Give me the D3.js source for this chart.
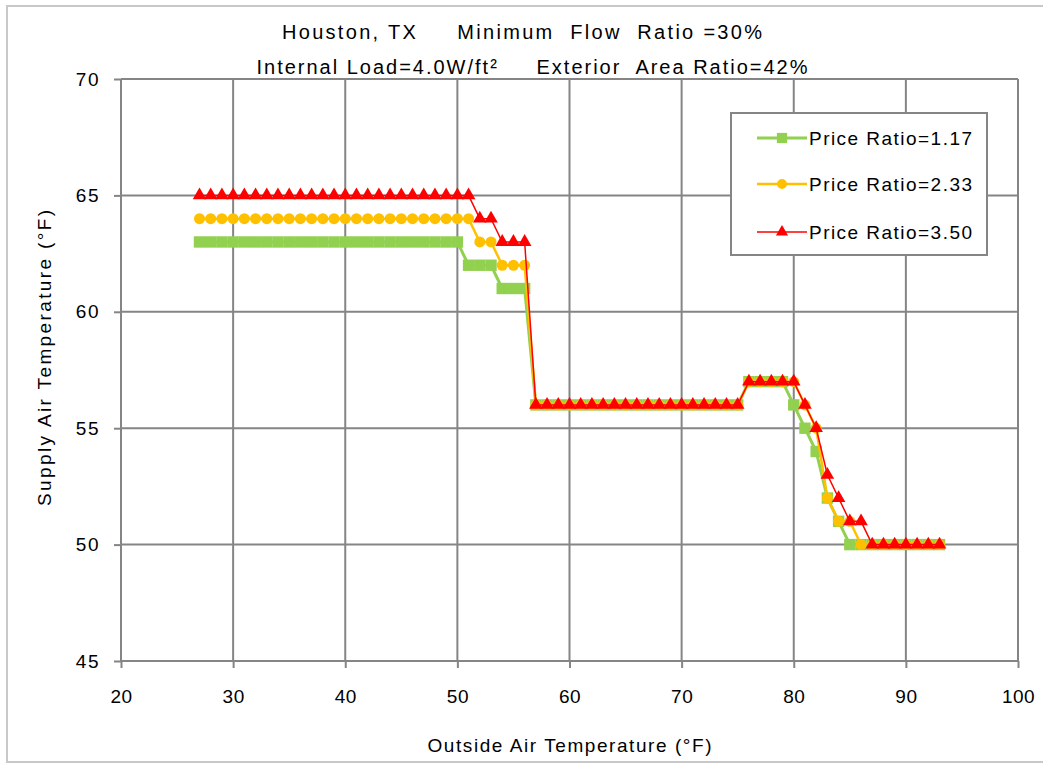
<!DOCTYPE html>
<html>
<head>
<meta charset="utf-8">
<script src="https://cdn.jsdelivr.net/npm/d3@7/dist/d3.min.js"></script>
<style>
  body { margin: 0; background: #fff; }
  svg { display: block; font-family: "Liberation Sans", Arial, sans-serif; }
</style>
</head>
<body>
<div id="chart"></div>
<script>
// outside air temperature (°F)
const oat = [27, 28, 29, 30, 31, 32, 33, 34, 35, 36, 37, 38, 39, 40, 41, 42, 43, 44, 45, 46,
  47, 48, 49, 50, 51, 52, 53, 54, 55, 56, 57, 58, 59, 60, 61, 62, 63, 64, 65, 66,
  67, 68, 69, 70, 71, 72, 73, 74, 75, 76, 77, 78, 79, 80, 81, 82, 83, 84, 85, 86,
  87, 88, 89, 90, 91, 92, 93];

// supply air temperature (°F) for each price ratio
const sat117 = [63, 63, 63, 63, 63, 63, 63, 63, 63, 63, 63, 63, 63, 63, 63, 63, 63, 63, 63, 63,
  63, 63, 63, 63, 62, 62, 62, 61, 61, 61, 56, 56, 56, 56, 56, 56, 56, 56, 56, 56,
  56, 56, 56, 56, 56, 56, 56, 56, 56, 57, 57, 57, 57, 56, 55, 54, 52, 51, 50, 50,
  50, 50, 50, 50, 50, 50, 50];
const sat233 = [64, 64, 64, 64, 64, 64, 64, 64, 64, 64, 64, 64, 64, 64, 64, 64, 64, 64, 64, 64,
  64, 64, 64, 64, 64, 63, 63, 62, 62, 62, 56, 56, 56, 56, 56, 56, 56, 56, 56, 56,
  56, 56, 56, 56, 56, 56, 56, 56, 56, 57, 57, 57, 57, 57, 56, 55, 52, 51, 51, 50,
  50, 50, 50, 50, 50, 50, 50];
const sat350 = [65, 65, 65, 65, 65, 65, 65, 65, 65, 65, 65, 65, 65, 65, 65, 65, 65, 65, 65, 65,
  65, 65, 65, 65, 65, 64, 64, 63, 63, 63, 56, 56, 56, 56, 56, 56, 56, 56, 56, 56,
  56, 56, 56, 56, 56, 56, 56, 56, 56, 57, 57, 57, 57, 57, 56, 55, 53, 52, 51, 51,
  50, 50, 50, 50, 50, 50, 50];

const seriesNames = ['Price Ratio=1.17', 'Price Ratio=2.33', 'Price Ratio=3.50'];
const xTicks = [20, 30, 40, 50, 60, 70, 80, 90, 100];
const yTicks = [45, 50, 55, 60, 65, 70];

const W = 1043, H = 763;
const margin = { top: 79, right: 25, bottom: 102, left: 121 };
const len = W - margin.left - margin.right;
const hei = H - margin.top - margin.bottom;

const svg = d3.select('#chart').append('svg')
  .attr('width', W)
  .attr('height', H);

// outer chart frame
svg.append('rect')
  .attr('x', 7).attr('y', 6)
  .attr('width', W + 10).attr('height', 756)
  .attr('fill', 'none')
  .attr('stroke', '#c8c8c8')
  .attr('stroke-width', 2);

const g = svg.append('g')
  .attr('transform', 'translate(' + margin.left + ',' + margin.top + ')');

const XScale = d3.scaleLinear().domain([20, 100]).range([0, len]);
const YScale = d3.scaleLinear().domain([45, 70]).range([hei, 0]);

// gridlines
g.append('g').selectAll('line')
  .data(xTicks)
  .enter().append('line')
  .attr('x1', d => XScale(d)).attr('x2', d => XScale(d))
  .attr('y1', 0).attr('y2', hei)
  .attr('stroke', '#858585').attr('stroke-width', 2);

g.append('g').selectAll('line')
  .data(yTicks)
  .enter().append('line')
  .attr('x1', 0).attr('x2', len)
  .attr('y1', d => YScale(d)).attr('y2', d => YScale(d))
  .attr('stroke', '#858585').attr('stroke-width', 2);

// axes
const xAxis = d3.axisBottom(XScale).tickValues(xTicks).tickSize(7).tickPadding(22)
  .tickFormat(d3.format('d'));
const yAxis = d3.axisLeft(YScale).tickValues(yTicks).tickSize(7).tickPadding(14)
  .tickFormat(d3.format('d'));

g.append('g')
  .attr('transform', 'translate(0,' + hei + ')')
  .call(xAxis)
  .call(a => a.select('.domain').remove())
  .call(a => a.selectAll('line').attr('stroke', '#858585').attr('stroke-width', 2))
  .call(a => a.selectAll('text').attr('font-size', 19).attr('fill', '#000')
    .attr('letter-spacing', 0.5)
    .attr('font-family', '"Liberation Sans", Arial, sans-serif'));

g.append('g')
  .call(yAxis)
  .call(a => a.select('.domain').remove())
  .call(a => a.selectAll('line').attr('stroke', '#858585').attr('stroke-width', 2))
  .call(a => a.selectAll('text').attr('font-size', 19).attr('fill', '#000')
    .attr('letter-spacing', 1.5)
    .attr('font-family', '"Liberation Sans", Arial, sans-serif'));

// series
const series = [
  { name: seriesNames[0], values: sat117, color: '#92D050', width: 3, marker: d3.symbolSquare, size: 130 },
  { name: seriesNames[1], values: sat233, color: '#FFC000', width: 2.5, marker: d3.symbolCircle, size: 95 },
  { name: seriesNames[2], values: sat350, color: '#FF0000', width: 1.5, marker: d3.symbolTriangle, size: 80 }
];

const line = d3.line()
  .x(d => XScale(d[0]))
  .y(d => YScale(d[1]));

series.forEach(s => {
  const pts = oat.map((x, i) => [x, s.values[i]]);
  g.append('path')
    .datum(pts)
    .attr('d', line)
    .attr('fill', 'none')
    .attr('stroke', s.color)
    .attr('stroke-width', s.width);

  g.append('g').selectAll('path')
    .data(pts)
    .enter().append('path')
    .attr('d', d3.symbol().type(s.marker).size(s.size))
    .attr('transform', d => 'translate(' + XScale(d[0]) + ',' + YScale(d[1]) + ')')
    .attr('fill', s.color);
});

// legend
const legend = svg.append('g').attr('transform', 'translate(731,113)');
legend.append('rect')
  .attr('width', 256).attr('height', 142)
  .attr('fill', '#fff')
  .attr('stroke', '#858585')
  .attr('stroke-width', 2);

const legendY = [25, 71, 119];
series.forEach((s, i) => {
  const row = legend.append('g').attr('transform', 'translate(0,' + legendY[i] + ')');
  row.append('line')
    .attr('x1', 26).attr('x2', 76)
    .attr('stroke', s.color).attr('stroke-width', s.width);
  row.append('path')
    .attr('d', d3.symbol().type(s.marker).size(s.size * 0.8))
    .attr('transform', 'translate(51,0)')
    .attr('fill', s.color);
  row.append('text')
    .attr('x', 78).attr('y', 0).attr('dy', '0.35em')
    .attr('font-size', 19)
    .attr('textLength', 163)
    .attr('lengthAdjust', 'spacing')
    .text(s.name);
});

// titles
svg.append('text')
  .attr('x', 522).attr('y', 32).attr('dy', '0.35em')
  .attr('text-anchor', 'middle')
  .attr('font-size', 20)
  .attr('textLength', 480)
  .attr('lengthAdjust', 'spacing')
  .attr('xml:space', 'preserve')
  .style('white-space', 'pre')
  .text('Houston, TX     Minimum  Flow  Ratio =30%');

svg.append('text')
  .attr('x', 532).attr('y', 67).attr('dy', '0.35em')
  .attr('text-anchor', 'middle')
  .attr('font-size', 20)
  .attr('textLength', 551)
  .attr('lengthAdjust', 'spacing')
  .attr('xml:space', 'preserve')
  .style('white-space', 'pre')
  .text('Internal Load=4.0W/ft²     Exterior  Area Ratio=42%');

svg.append('text')
  .attr('x', margin.left + len / 2).attr('y', 745).attr('dy', '0.35em')
  .attr('text-anchor', 'middle')
  .attr('font-size', 19)
  .attr('textLength', 284)
  .attr('lengthAdjust', 'spacing')
  .text('Outside Air Temperature (°F)');

svg.append('text')
  .attr('transform', 'translate(44,' + (margin.top + hei / 2 - 12) + ') rotate(-90)')
  .attr('dy', '0.35em')
  .attr('text-anchor', 'middle')
  .attr('font-size', 19)
  .attr('textLength', 296)
  .attr('lengthAdjust', 'spacing')
  .text('Supply Air Temperature (°F)');
</script>
</body>
</html>
